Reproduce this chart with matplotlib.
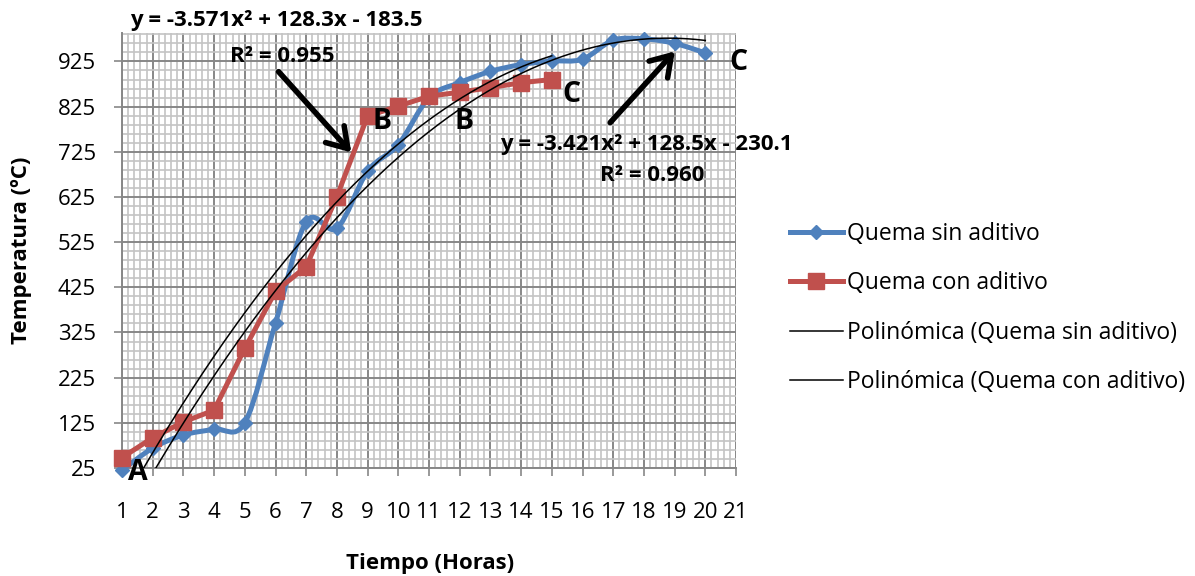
import numpy as np
import matplotlib.pyplot as plt
from matplotlib.path import Path
from matplotlib.patches import PathPatch
from matplotlib.lines import Line2D
from matplotlib.ticker import FixedLocator

plt.rcParams['font.family'] = ['Open Sans', 'DejaVu Sans']

# datos
horas_sin = [1, 2, 3, 4, 5, 6, 7, 8, 9, 10, 11, 12, 13, 14, 15, 16, 17, 18, 19, 20]
temp_sin = [20, 69, 98, 111, 125, 346, 570, 556, 682, 741, 845, 878, 903, 918, 926, 930, 972, 975, 965, 944]
horas_con = [1, 2, 3, 4, 5, 6, 7, 8, 9, 10, 11, 12, 13, 14, 15]
temp_con = [48, 92, 127, 153, 290, 416, 471, 626, 804, 826, 848, 857, 867, 878, 885]

# coeficientes de las lineas de tendencia (de las etiquetas)
coef_sin = [-3.421, 128.5, -230.1]
coef_con = [-3.571, 128.3, -183.5]
eq_sin = "y = -3.421x² + 128.5x - 230.1"
r2_sin = "R² = 0.960"
eq_con = "y = -3.571x² + 128.3x - 183.5"
r2_con = "R² = 0.955"

y_ticks = list(range(25, 926, 100))
x_ticks = list(range(1, 22))

azul = '#4F81BD'
rojo = '#C0504D'
gris = '#878787'
gris_claro = '#C4C4C4'


def curva_suave(x, y):
    # linea suavizada estilo Excel (bezier con tangentes catmull-rom)
    p = np.column_stack([x, y]).astype(float)
    n = len(p)
    verts = [p[0]]
    codes = [Path.MOVETO]
    for i in range(n - 1):
        p0 = p[max(i - 1, 0)]
        p1 = p[i]
        p2 = p[i + 1]
        p3 = p[min(i + 2, n - 1)]
        verts += [p1 + (p2 - p0) / 6, p2 - (p3 - p1) / 6, p2]
        codes += [Path.CURVE4] * 3
    return Path(verts, codes)


fig = plt.figure(figsize=(11.95, 5.76), dpi=100)
ax = fig.add_axes([122 / 1195, 1 - 468 / 576, 614 / 1195, 435 / 576])

ax.set_xlim(1, 21)
ax.set_ylim(25, 988)
ax.set_xticks(x_ticks)
ax.set_yticks(y_ticks)
ax.xaxis.set_minor_locator(FixedLocator(np.arange(1, 21.01, 0.2)))
ax.yaxis.set_minor_locator(FixedLocator(np.arange(25, 988, 20)))
ax.set_axisbelow(True)
ax.grid(which='minor', color=gris_claro, lw=1.2)
ax.grid(which='major', color=gris, lw=1.4)
for s in ['top', 'right']:
    ax.spines[s].set_visible(False)
for s in ['left', 'bottom']:
    ax.spines[s].set_color(gris)
    ax.spines[s].set_linewidth(1.4)
ax.tick_params(which='minor', length=0)
ax.tick_params(axis='x', which='major', length=5.8, width=1.2, color=gris, pad=19, labelsize=16)
ax.tick_params(axis='y', which='major', length=5.8, width=1.2, color=gris, pad=13, labelsize=16)

# serie sin aditivo (suavizada)
ax.add_patch(PathPatch(curva_suave(horas_sin, temp_sin), fc='none', ec=azul, lw=3.6,
                       joinstyle='round', capstyle='round', zorder=3))
ax.plot(horas_sin, temp_sin, ls='none', marker='D', ms=7, color=azul, clip_on=False, zorder=3)

# serie con aditivo
ax.plot(horas_con, temp_con, color=rojo, lw=3.6, marker='s', ms=12, clip_on=False, zorder=4)

# tendencias
xs = np.linspace(1, horas_sin[-1], 300)
ax.plot(xs, np.polyval(coef_sin, xs), color='k', lw=1.1, zorder=5)
xc = np.linspace(1, horas_con[-1], 300)
ax.plot(xc, np.polyval(coef_con, xc), color='k', lw=1.1, zorder=5)

# ecuaciones y flechas
ax.text(1.26, 1016, eq_con, fontsize=16, fontweight='bold', va='center', ha='left')
ax.text(4.52, 937, r2_con, fontsize=16, fontweight='bold', va='center', ha='left')
ax.text(13.31, 741, eq_sin, fontsize=16, fontweight='bold', va='center', ha='left', zorder=6)
ax.text(16.57, 673, r2_sin, fontsize=16, fontweight='bold', va='center', ha='left', zorder=6)
flecha = dict(arrowstyle='->,head_length=0.7,head_width=0.45', lw=4, color='k', mutation_scale=20)
ax.annotate('', xy=(8.53, 719), xytext=(6.04, 907), arrowprops=flecha, zorder=6)
ax.annotate('', xy=(19.07, 952), xytext=(16.84, 785), arrowprops=flecha, zorder=6)

# letras de las etapas
letras = ['A', 'B', 'B', 'C', 'C']
pos_x = [1.52, 9.47, 12.14, 15.63, 21.07]
pos_y = [16, 792, 792, 852, 923]
for l, px, py in zip(letras, pos_x, pos_y):
    ax.text(px, py, l, fontsize=20.5, fontweight='bold', ha='center', va='center', zorder=6, clip_on=False)

fig.text(22 / 1195, 1 - 250 / 576, 'Temperatura (ºC)', rotation=90, fontsize=16,
         fontweight='bold', ha='center', va='center')
fig.text(430 / 1195, 1 - 563 / 576, 'Tiempo (Horas)', fontsize=16,
         fontweight='bold', ha='center', va='center')

handles = [Line2D([], [], color=azul, lw=3.6, marker='D', ms=7),
           Line2D([], [], color=rojo, lw=3.6, marker='s', ms=12),
           Line2D([], [], color='k', lw=1.1),
           Line2D([], [], color='k', lw=1.1)]
labels = ['Quema sin aditivo', 'Quema con aditivo',
          'Polinómica (Quema sin aditivo)', 'Polinómica (Quema con aditivo)']
fig.legend(handles, labels, loc='center left', bbox_to_anchor=(790 / 1195, 1 - 308 / 576),
           frameon=False, fontsize=16.5, handlelength=2.3, handletextpad=0.2,
           labelspacing=1.11, borderaxespad=0, borderpad=0, numpoints=1)

fig.savefig('out.png', dpi=100)
